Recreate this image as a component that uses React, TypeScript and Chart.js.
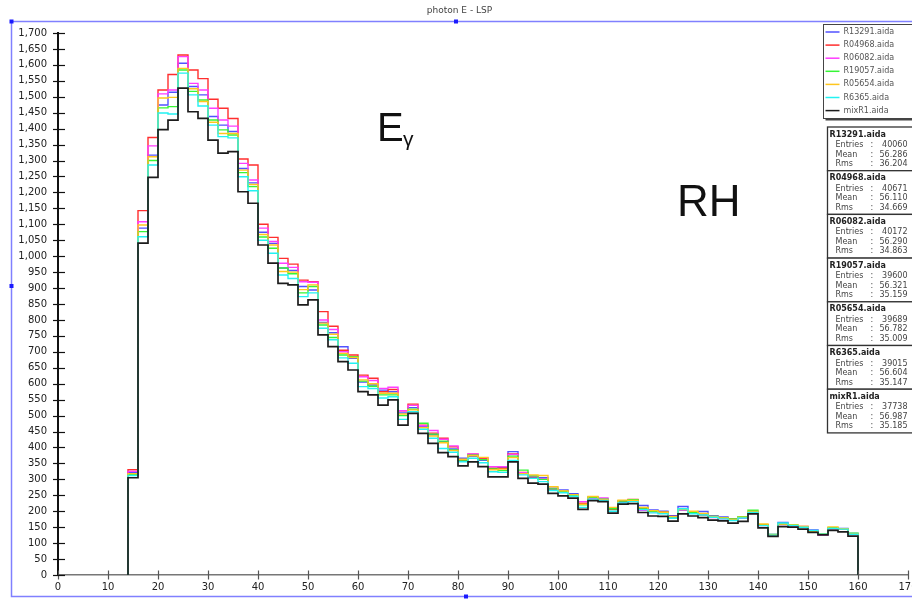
import { useEffect, useRef } from "react";
import { Chart, registerables } from "chart.js";

Chart.register(...registerables);

const titleText = "photon E - LSP";
const seriesLabels = ["R13291.aida", "R04968.aida", "R06082.aida", "R19057.aida", "R05654.aida", "R6365.aida", "mixR1.aida"];
const seriesColors = ["#5252ff", "#ff2e2e", "#ff3cff", "#36f536", "#ffc61e", "#22f2f2", "#1c1c1c"];

const binLow = 14;
const binWidth = 2;
const xTickStep = 10;
const yTickStep = 50;

const r13291 = [322,1088,1317,1474,1514,1605,1532,1506,1438,1411,1391,1275,1230,1075,1040,963,955,905,894,792,760,716,680,605,596,580,575,508,525,465,440,418,395,366,372,360,334,338,387,318,306,305,272,267,255,222,244,236,207,228,235,218,204,200,186,215,198,199,186,182,176,182,198,158,127,165,155,150,141,128,146,146,130];
const r04968 = [330,1143,1372,1521,1570,1631,1584,1557,1492,1464,1432,1305,1286,1100,1059,993,975,925,920,826,780,705,690,627,617,575,582,515,536,470,445,429,402,360,379,365,335,335,380,322,308,300,268,262,251,225,242,238,205,230,237,210,200,198,184,205,196,188,182,178,175,180,196,158,126,160,155,152,138,128,145,144,128];
const r06082 = [325,1108,1346,1509,1521,1626,1542,1521,1464,1427,1408,1291,1239,1088,1046,978,965,920,918,800,770,700,685,622,610,585,589,515,532,468,453,426,405,362,380,368,340,340,378,321,310,302,270,260,250,230,240,242,210,233,232,203,198,196,182,203,194,190,180,176,172,178,195,155,124,158,154,150,137,125,146,143,127];
const r19057 = [315,1077,1300,1465,1469,1584,1517,1490,1427,1396,1380,1262,1218,1060,1025,963,945,885,905,784,745,690,685,608,592,565,565,500,520,476,442,420,392,358,376,362,333,328,373,329,311,300,270,262,250,220,244,238,208,232,236,210,200,196,182,205,196,192,184,180,176,183,203,157,127,160,157,151,138,129,148,145,131];
const r05654 = [318,1098,1312,1496,1498,1589,1525,1485,1420,1385,1385,1270,1225,1068,1035,952,950,895,910,790,755,695,682,612,600,570,570,505,518,462,436,415,390,363,374,369,330,332,368,318,314,312,277,264,252,222,246,236,212,235,234,212,202,197,183,206,200,193,184,179,174,181,199,160,126,160,156,152,138,128,151,145,129];
const r6365 = [312,1061,1286,1449,1446,1574,1506,1471,1411,1375,1371,1249,1205,1050,1009,941,930,873,885,774,738,681,664,591,585,555,559,488,512,457,429,397,385,355,366,352,324,322,359,314,303,293,265,258,247,212,238,234,200,226,230,205,195,192,178,208,192,188,181,176,171,179,196,155,125,163,155,150,140,128,146,144,128];
const mixR1 = [305,1041,1247,1397,1427,1527,1453,1432,1364,1323,1328,1202,1166,1035,978,915,910,847,863,753,716,669,643,575,565,533,549,470,507,444,413,384,371,342,355,340,308,308,355,303,288,285,256,248,241,206,233,230,194,222,224,196,185,184,169,192,185,180,172,170,163,168,192,148,121,152,150,144,134,126,140,135,122];

const seriesValues = [r13291, r04968, r06082, r19057, r05654, r6365, mixR1];

const statNames = ["R13291.aida", "R04968.aida", "R06082.aida", "R19057.aida", "R05654.aida", "R6365.aida", "mixR1.aida"];
const statEntries = ["40060", "40671", "40172", "39600", "39689", "39015", "37738"];
const statMeans = ["56.286", "56.110", "56.290", "56.321", "56.782", "56.604", "56.987"];
const statRms = ["36.204", "34.669", "34.863", "35.159", "35.009", "35.147", "35.185"];

const FONT = "DejaVu Sans";

function toSteps(values: number[]) {
  const pts: { x: number; y: number }[] = [{ x: binLow, y: 0 }];
  values.forEach((v, i) => pts.push({ x: binLow + i * binWidth, y: v }));
  pts.push({ x: binLow + values.length * binWidth, y: 0 });
  return pts;
}

const decorPlugin = {
  id: "decor",
  beforeDraw(chart: any) {
    const ctx = chart.ctx as CanvasRenderingContext2D;
    ctx.save();
    ctx.fillStyle = "#ffffff";
    ctx.fillRect(0, 0, chart.width, chart.height);
    ctx.strokeStyle = "#8080ff";
    ctx.lineWidth = 1.5;
    ctx.beginPath();
    ctx.moveTo(chart.width, 21.5);
    ctx.lineTo(11.5, 21.5);
    ctx.lineTo(11.5, 596.5);
    ctx.lineTo(chart.width, 596.5);
    ctx.stroke();
    ctx.fillStyle = "#1a1aff";
    [[11.5, 21.5], [456, 21.5], [11.5, 286], [466, 596.5]].forEach(([x, y]) => ctx.fillRect(x - 2, y - 2, 4, 4));
    ctx.restore();
  },
  afterDraw(chart: any) {
    const ctx = chart.ctx as CanvasRenderingContext2D;
    const xs = chart.scales.x;
    const ys = chart.scales.y;
    ctx.save();
    // tick marks crossing the axes
    ctx.lineWidth = 1.2;
    ctx.strokeStyle = "#555";
    xs.ticks.forEach((t: any) => {
      const px = Math.round(xs.getPixelForValue(t.value)) + 0.5;
      ctx.beginPath();
      ctx.moveTo(px, ys.bottom - 4.5);
      ctx.lineTo(px, ys.bottom + 4.5);
      ctx.stroke();
    });
    ctx.strokeStyle = "#111";
    ys.ticks.forEach((t: any) => {
      const py = Math.round(ys.getPixelForValue(t.value)) + 0.5;
      ctx.beginPath();
      ctx.moveTo(xs.left - 5, py);
      ctx.lineTo(xs.left + 7, py);
      ctx.stroke();
    });

    // legend box
    const lx = 823.5, ly = 24.5, lw = 95, lh = 94;
    ctx.fillStyle = "#ffffff";
    ctx.fillRect(lx, ly, lw, lh);
    ctx.strokeStyle = "#444";
    ctx.lineWidth = 1;
    ctx.strokeRect(lx, ly, lw, lh);
    ctx.lineWidth = 2;
    ctx.beginPath();
    ctx.moveTo(lx + 2, ly + lh + 1);
    ctx.lineTo(lx + lw, ly + lh + 1);
    ctx.stroke();
    ctx.font = `8px ${FONT}`;
    ctx.textBaseline = "middle";
    ctx.textAlign = "left";
    chart.data.datasets.forEach((ds: any, i: number) => {
      const y = ly + 7.5 + i * 13.1;
      ctx.strokeStyle = ds.borderColor;
      ctx.lineWidth = 1.5;
      ctx.beginPath();
      ctx.moveTo(lx + 2, y);
      ctx.lineTo(lx + 16, y);
      ctx.stroke();
      ctx.fillStyle = "#555";
      ctx.fillText(ds.label, lx + 20, y);
    });

    // stats boxes
    const sx = 827.5, sw = 90, sTop = 127, sh = 43.7;
    statNames.forEach((name, i) => {
      const top = sTop + i * sh;
      ctx.fillStyle = "#ffffff";
      ctx.fillRect(sx, top, sw, sh);
      ctx.strokeStyle = "#333";
      ctx.lineWidth = 1.3;
      ctx.strokeRect(sx, top, sw, sh);
      ctx.fillStyle = "#222";
      ctx.font = `bold 8px ${FONT}`;
      ctx.textAlign = "left";
      ctx.fillText(name, sx + 2, top + 7.5);
      ctx.font = `8px ${FONT}`;
      ctx.fillStyle = "#444";
      const rows: [string, string][] = [["Entries", statEntries[i]], ["Mean", statMeans[i]], ["Rms", statRms[i]]];
      rows.forEach(([k, v], j) => {
        const y = top + 18 + j * 9.5;
        ctx.textAlign = "left";
        ctx.fillText(k, sx + 8, y);
        ctx.fillText(":", sx + 43, y);
        ctx.textAlign = "right";
        ctx.fillText(v, sx + 80, y);
      });
    });

    // annotations
    ctx.fillStyle = "#111";
    ctx.textAlign = "left";
    ctx.textBaseline = "alphabetic";
    ctx.font = `40px "Liberation Sans"`;
    ctx.fillText("E", 377, 141);
    ctx.font = `21px "Liberation Sans"`;
    ctx.fillText("γ", 403, 146);
    ctx.font = `44px "Liberation Sans"`;
    ctx.fillText("RH", 677, 216);
    ctx.restore();
  },
};

export default function App() {
  const ref = useRef<HTMLCanvasElement | null>(null);

  useEffect(() => {
    if (!ref.current) return;
    const datasets = seriesValues.map((vals, i) => ({
      label: seriesLabels[i],
      data: toSteps(vals),
      borderColor: seriesColors[i],
      backgroundColor: seriesColors[i],
      borderWidth: i === seriesValues.length - 1 ? 1.7 : 1.4,
      stepped: true as const,
      pointRadius: 0,
      fill: false,
      tension: 0,
      order: i === seriesValues.length - 1 ? 0 : seriesValues.length - i,
    }));
    const tickFont = { family: FONT, size: 10 };
    const chart = new Chart(ref.current, {
      type: "line",
      data: { datasets },
      plugins: [decorPlugin],
      options: {
        animation: false,
        responsive: true,
        maintainAspectRatio: false,
        locale: "en-US",
        layout: { padding: { left: 11, right: 4, top: 0, bottom: 6 } },
        plugins: {
          legend: { display: false },
          tooltip: { enabled: false },
          title: {
            display: true,
            text: titleText,
            color: "#444",
            font: { family: FONT, size: 9, weight: "normal" },
            padding: { top: 5, bottom: 17.2 },
          },
        },
        scales: {
          x: {
            type: "linear",
            min: 0,
            max: 170,
            ticks: { stepSize: xTickStep, autoSkip: false, maxRotation: 0, font: tickFont, color: "#222", padding: 6 },
            grid: { display: false, drawTicks: false },
            border: { display: true, color: "#777", width: 1.5 },
            afterFit(s: any) {
              s.height = 18;
              s.paddingLeft = 0;
              s.paddingRight = 0;
            },
          },
          y: {
            type: "linear",
            min: 0,
            max: 1700,
            ticks: { stepSize: yTickStep, autoSkip: false, font: tickFont, color: "#222", padding: 11 },
            grid: { display: false, drawTicks: false },
            border: { display: true, color: "#111", width: 2 },
            afterFit(s: any) {
              s.width = 47;
              s.paddingTop = 0;
              s.paddingBottom = 0;
            },
          },
        },
      },
    } as any);
    return () => chart.destroy();
  }, []);

  return (
    <div style={{ position: "absolute", left: 0, top: 0, width: 912, height: 599 }}>
      <canvas ref={ref} />
    </div>
  );
}
